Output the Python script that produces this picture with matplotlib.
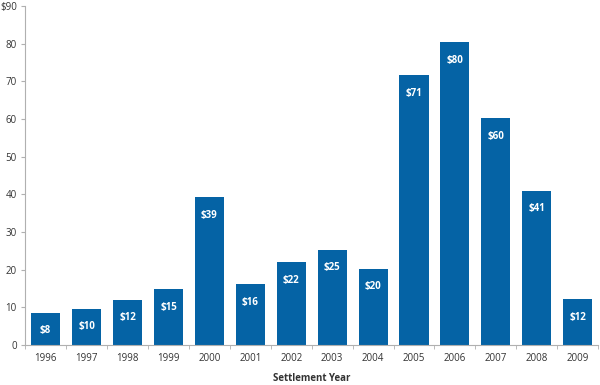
import matplotlib.pyplot as plt
import numpy as np

years = ["1996", "1997", "1998", "1999", "2000", "2001", "2002",
         "2003", "2004", "2005", "2006", "2007", "2008", "2009"]
values = [8.6, 9.6, 12.0, 14.8, 39.3, 16.2, 22.0, 25.3, 20.3, 71.7, 80.4, 60.2, 41.0, 12.1]
bar_labels = ["$8", "$10", "$12", "$15", "$39", "$16", "$22", "$25", "$20",
              "$71", "$80", "$60", "$41", "$12"]
yticks = [0, 10, 20, 30, 40, 50, 60, 70, 80, 90]
ytick_labels = ["0", "10", "20", "30", "40", "50", "60", "70", "80", "$90"]

blue = "#0563a5"
gray = "#b0b0b0"
txt = "#333333"

plt.rcParams["font.family"] = ["Open Sans", "DejaVu Sans"]

fig = plt.figure(figsize=(6, 3.85), dpi=100)
ax = fig.add_axes([0.042, 0.104, 0.955, 0.88])

x = np.arange(len(years))
ax.bar(x, values, width=0.71, color=blue, zorder=2)

for xi, v, lab in zip(x, values, bar_labels):
    ax.annotate(lab, (xi, v), xytext=(0, -13), textcoords="offset points",
                ha="center", va="center", color="white", fontsize=7,
                fontweight="bold")

ax.set_xlim(-0.5, len(years) - 0.5)
ax.set_ylim(0, 90)
ax.set_yticks(yticks)
ax.set_yticklabels(ytick_labels)
ax.set_xticks(x)
ax.set_xticklabels(years)
ax.set_xticks(np.arange(-0.5, len(years)), minor=True)

ax.tick_params(axis="x", which="major", length=0, pad=6, labelsize=7, labelcolor=txt)
ax.tick_params(axis="x", which="minor", length=3, color=gray)
ax.tick_params(axis="y", length=3, color=gray, labelsize=7, labelcolor=txt, pad=3)

for s in ["top", "right"]:
    ax.spines[s].set_visible(False)
for s in ["left", "bottom"]:
    ax.spines[s].set_color(gray)
    ax.spines[s].set_linewidth(0.8)

ax.set_xlabel("Settlement Year", fontsize=7, fontweight="bold", color=txt, labelpad=6)

fig.savefig("out.png", dpi=100)
